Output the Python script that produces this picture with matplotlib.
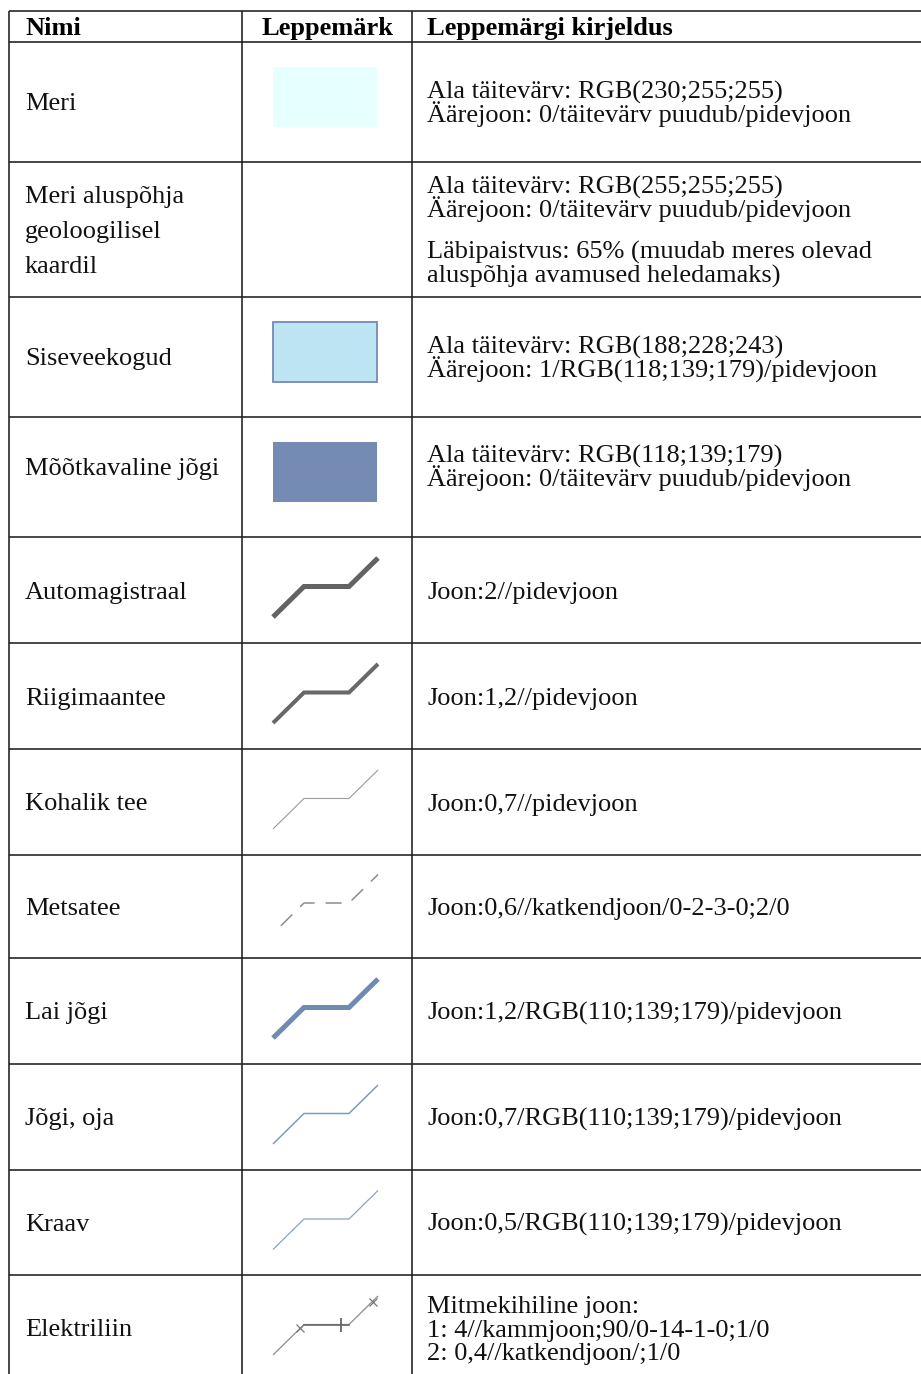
import matplotlib.pyplot as plt
from matplotlib.patches import Rectangle
from matplotlib.font_manager import FontProperties

plt.rcParams['font.family'] = ['Liberation Serif', 'DejaVu Serif']

W, H = 921, 1374

headers = ["Nimi", "Leppemärk", "Leppemärgi kirjeldus"]

names = [
    ["Meri"],
    ["Meri aluspõhja", "geoloogilisel", "kaardil"],
    ["Siseveekogud"],
    ["Mõõtkavaline jõgi"],
    ["Automagistraal"],
    ["Riigimaantee"],
    ["Kohalik tee"],
    ["Metsatee"],
    ["Lai jõgi"],
    ["Jõgi, oja"],
    ["Kraav"],
    ["Elektriliin"],
]

# each description is a list of paragraphs, each a list of lines
descriptions = [
    [["Ala täitevärv: RGB(230;255;255)", "Äärejoon: 0/täitevärv puudub/pidevjoon"]],
    [["Ala täitevärv: RGB(255;255;255)", "Äärejoon: 0/täitevärv puudub/pidevjoon"],
     ["Läbipaistvus: 65% (muudab meres olevad", "aluspõhja avamused heledamaks)"]],
    [["Ala täitevärv: RGB(188;228;243)", "Äärejoon: 1/RGB(118;139;179)/pidevjoon"]],
    [["Ala täitevärv: RGB(118;139;179)", "Äärejoon: 0/täitevärv puudub/pidevjoon"]],
    [["Joon:2//pidevjoon"]],
    [["Joon:1,2//pidevjoon"]],
    [["Joon:0,7//pidevjoon"]],
    [["Joon:0,6//katkendjoon/0-2-3-0;2/0"]],
    [["Joon:1,2/RGB(110;139;179)/pidevjoon"]],
    [["Joon:0,7/RGB(110;139;179)/pidevjoon"]],
    [["Joon:0,5/RGB(110;139;179)/pidevjoon"]],
    [["Mitmekihiline joon:", "1: 4//kammjoon;90/0-14-1-0;1/0", "2: 0,4//katkendjoon/;1/0"]],
]

# symbol type per row
symbol_kind = ["area", "none", "area", "area", "line", "line", "line", "dash",
               "line", "line", "line", "power"]
area_fill = {0: (230, 255, 255), 2: (188, 228, 243), 3: (118, 139, 179)}
area_edge = {2: (118, 139, 179)}
line_color = {4: "#636363", 5: "#686868", 6: "#9a9a9a", 7: "#8c8c8c",
              8: "#6f8bb3", 9: "#7f9ac0", 10: "#8aa2c6", 11: "#8c8c8c"}
line_width = {4: 3.6, 5: 2.9, 6: 0.8, 7: 1.1, 8: 3.6, 9: 1.1, 10: 0.9, 11: 0.9}

# layout (pixels)
row_edges = [11, 42, 162, 297, 417, 537, 643, 749, 855, 958, 1064, 1170, 1275, 1381]
col_edges = [9, 242, 412, W + 5]
text_shift = {3: -11}
zig_x = [273, 304, 349, 378]
zig_dy = [27, -3.5, -3.5, -32]
FS = 19
STEP = 23.8
NAME_STEP = 35
PARA_GAP = 18
BASE = 8.5  # baseline below the visual line centre


def rgb(c):
    return tuple(v / 255 for v in c)


fig = plt.figure(figsize=(W / 100, H / 100), dpi=100)
ax = fig.add_axes([0, 0, 1, 1])
ax.set_xlim(0, W)
ax.set_ylim(H, 0)
ax.axis("off")
renderer = fig.canvas.get_renderer()
prop = FontProperties(family=['Liberation Serif', 'DejaVu Serif'], size=FS)


def metrics(s):
    w, h, d = renderer.get_text_width_height_descent(s, prop, ismath=False)
    return h, d


def text_block(x, first_base, lines, step):
    # one text object per cell; linespacing picked so baselines are `step` apart
    lp_h, lp_d = metrics("lp")
    hs, ds = [], []
    for s in lines:
        h, d = metrics(s)
        hs.append(max(h, lp_h))
        ds.append(max(d, lp_d))
    ls = 1.0
    if len(lines) > 1:
        need = [(step - ds[k - 1]) / (hs[k] - ds[k]) for k in range(1, len(lines))]
        ls = sum(need) / len(need)
    top = first_base - (hs[0] - ds[0])
    ax.text(x, top, "\n".join(lines), fontsize=FS, va="top", ha="left",
            linespacing=ls, color="#111111")


# grid
for y in row_edges:
    ax.plot([col_edges[0], col_edges[-1]], [y, y], color="#1e1e1e", lw=1.15,
            solid_capstyle="butt")
for x in col_edges:
    ax.plot([x, x], [row_edges[0], row_edges[-1]], color="#1e1e1e", lw=1.15,
            solid_capstyle="butt")

# header
hy = (row_edges[0] + row_edges[1]) / 2 + BASE
ax.text(25, hy, headers[0], fontsize=FS, fontweight="bold", va="baseline", ha="left")
ax.text((col_edges[1] + col_edges[2]) / 2, hy, headers[1], fontsize=FS,
        fontweight="bold", va="baseline", ha="center")
ax.text(427, hy, headers[2], fontsize=FS, fontweight="bold", va="baseline", ha="left")

for i in range(len(names)):
    top, bot = row_edges[i + 1], row_edges[i + 2]
    yc = (top + bot) / 2
    ty = yc + text_shift.get(i, 0)

    n = len(names[i])
    text_block(25, ty - (n - 1) / 2 * NAME_STEP + BASE, names[i], NAME_STEP)

    paras = descriptions[i]
    span = sum((len(p) - 1) * STEP for p in paras) + (len(paras) - 1) * (STEP + PARA_GAP)
    y0 = ty - span / 2 + BASE
    for para in paras:
        text_block(427, y0, para, STEP)
        y0 += (len(para) - 1) * STEP + STEP + PARA_GAP

    kind = symbol_kind[i]
    if kind == "area":
        edge = area_edge.get(i)
        ax.add_patch(Rectangle((273, yc - 35), 104, 60,
                               facecolor=rgb(area_fill[i]),
                               edgecolor=rgb(edge) if edge else "none",
                               lw=1.3 if edge else 0))
    elif kind in ("line", "dash", "power"):
        ys = [yc + d for d in zig_dy]
        ls = (10.5, (10.5, 7.2)) if kind == "dash" else "-"
        ax.plot(zig_x, ys, color=line_color[i], lw=line_width[i], ls=ls,
                solid_capstyle="butt", solid_joinstyle="miter",
                dash_capstyle="butt")
        if kind == "power":
            ax.plot([zig_x[1], zig_x[2]], [ys[1], ys[2]], color="#6a6a6a", lw=1.2)
            ax.plot([300, 373], [yc, yc - 26], ls="none", marker="x",
                    ms=6, mew=0.9, color="#7a7a7a")
            ax.plot([341], [ys[1]], ls="none", marker="|", ms=10, mew=1.3,
                    color="#666666")

fig.savefig("out.png", dpi=100)
